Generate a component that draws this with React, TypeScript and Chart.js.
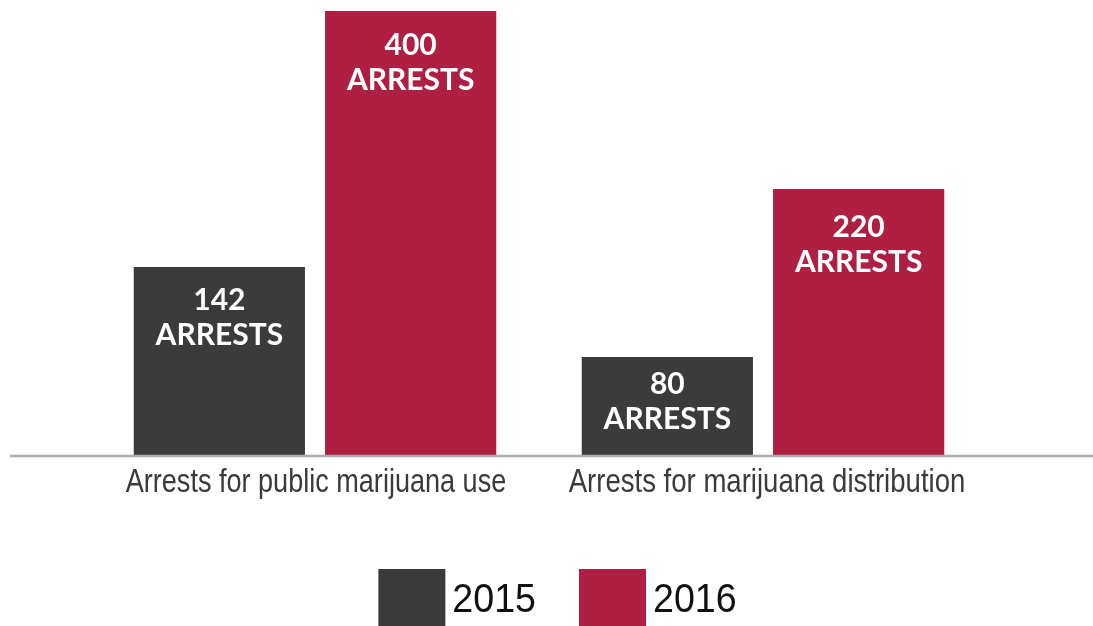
import React, { useEffect, useRef } from "react";
import { Chart, registerables } from "chart.js";

Chart.register(...registerables);

const categories = ["Arrests for public marijuana use", "Arrests for marijuana distribution"];
const seriesNames = ["2015", "2016"];
// bar heights as drawn in the picture (axis units, 0..400)
const heights2015 = [170, 89];
const heights2016 = [400, 240];
// numbers printed on the bars
const arrests2015 = [142, 80];
const arrests2016 = [400, 220];
const barSuffix = "ARRESTS";

const colors = ["#3b3b3b", "#af1f41"];
const baseFont = "'Liberation Sans', Arial, sans-serif";

function fillScaled(ctx: any, text: string, x: number, y: number, sx: number, align: string) {
  ctx.save();
  ctx.translate(x, y);
  ctx.scale(sx, 1);
  ctx.textAlign = align;
  ctx.fillText(text, 0, 0);
  ctx.restore();
}

const barLabelPlugin = {
  id: "barLabels",
  afterDatasetsDraw(chart: any, _args: any, opts: any) {
    const ctx = chart.ctx;
    const counts = [arrests2015, arrests2016];
    const offsets = opts.offsets || [];
    ctx.save();
    ctx.fillStyle = "#ffffff";
    ctx.font = "bold 30px Lato, 'Open Sans', sans-serif";
    ctx.textAlign = "center";
    ctx.textBaseline = "middle";
    chart.data.datasets.forEach((_: any, di: number) => {
      const meta = chart.getDatasetMeta(di);
      meta.data.forEach((bar: any, i: number) => {
        const off = (offsets[di] && offsets[di][i]) || 34;
        ctx.fillText(String(counts[di][i]), bar.x, bar.y + off);
        ctx.fillText(barSuffix, bar.x, bar.y + off + 35);
      });
    });
    ctx.restore();
  },
};

const axisPlugin = {
  id: "axisLineAndLabels",
  afterDatasetsDraw(chart: any) {
    const ctx = chart.ctx;
    const xs = chart.scales.x;
    const y = chart.scales.y.getPixelForValue(0);
    ctx.save();
    ctx.strokeStyle = "#adadaf";
    ctx.lineWidth = 2.5;
    ctx.beginPath();
    ctx.moveTo(10, y);
    ctx.lineTo(chart.width, y);
    ctx.stroke();
    ctx.fillStyle = "#3a3a3a";
    ctx.font = "33px " + baseFont;
    ctx.textBaseline = "alphabetic";
    chart.data.labels.forEach((lab: string, i: number) => {
      fillScaled(ctx, lab, xs.getPixelForValue(i) + (i === 1 ? 4 : 1), y + 36, i === 1 ? 0.835 : 0.82, "center");
    });
    ctx.restore();
  },
};

const legendPlugin = {
  id: "customLegend",
  afterDraw(chart: any) {
    const ctx = chart.ctx;
    const boxW = 67;
    const gap = 7;
    const spacing = 43;
    const sx = 0.94;
    const top = chart.height - 57;
    const baseY = chart.height - 14;
    ctx.save();
    ctx.font = "40px " + baseFont;
    const items = chart.data.datasets.map((d: any) => ({
      text: d.label,
      color: d.backgroundColor,
      w: ctx.measureText(d.label).width * sx,
    }));
    const total = items.reduce((s: number, it: any) => s + boxW + gap + it.w, 0) + spacing * (items.length - 1);
    let x = chart.width / 2 + 11 - total / 2;
    items.forEach((it: any) => {
      ctx.fillStyle = it.color;
      ctx.fillRect(x, top, boxW, chart.height - top);
      ctx.fillStyle = "#111111";
      ctx.textBaseline = "alphabetic";
      fillScaled(ctx, it.text, x + boxW + gap, baseY, sx, "left");
      x += boxW + gap + it.w + spacing;
    });
    ctx.restore();
  },
};

export default function App() {
  const ref = useRef<HTMLCanvasElement | null>(null);
  useEffect(() => {
    if (!ref.current) return;
    const chart = new Chart(ref.current, {
      type: "bar",
      data: {
        labels: categories,
        datasets: [
          { label: seriesNames[0], data: heights2015, backgroundColor: colors[0], borderWidth: 0 },
          { label: seriesNames[1], data: heights2016, backgroundColor: colors[1], borderWidth: 0 },
        ],
      },
      options: {
        animation: false,
        responsive: false,
        maintainAspectRatio: false,
        datasets: { bar: { categoryPercentage: 0.854, barPercentage: 0.895 } },
        layout: { padding: { top: 11, left: 91, right: 106, bottom: 170 } },
        plugins: {
          legend: { display: false },
          tooltip: { enabled: false },
          barLabels: { offsets: [[33, 27], [34, 38]] },
        } as any,
        scales: {
          x: {
            grid: { display: false, drawTicks: false },
            border: { display: false },
            ticks: { display: false },
          },
          y: { display: false, min: 0, max: 400 },
        },
      },
      plugins: [axisPlugin, barLabelPlugin, legendPlugin],
    });
    return () => chart.destroy();
  }, []);
  return (
    <div style={{ position: "fixed", left: 0, top: 0, width: 1093, height: 626, background: "#fff" }}>
      <canvas ref={ref} width={1093} height={626} style={{ display: "block" }} />
    </div>
  );
}
